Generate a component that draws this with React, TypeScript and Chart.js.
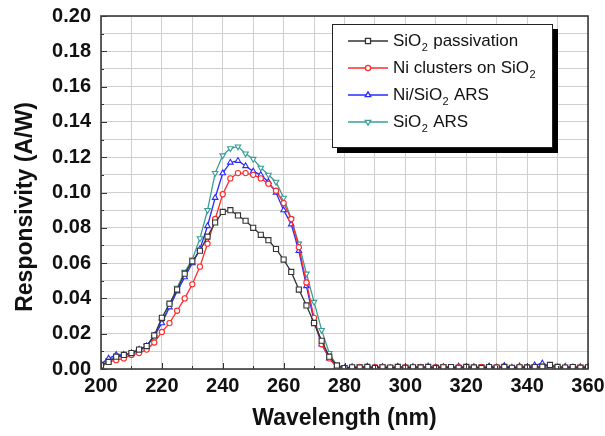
import React, { useEffect, useRef } from 'react';
import { Chart, registerables } from 'chart.js';
import { drawPoint } from 'chart.js/helpers';

Chart.register(...registerables);

// Wavelength sampling (nm)
const wavelengths = [
  200, 202.5, 205, 207.5, 210, 212.5, 215, 217.5, 220, 222.5, 225, 227.5, 230, 232.5, 235, 237.5,
  240, 242.5, 245, 247.5, 250, 252.5, 255, 257.5, 260, 262.5, 265, 267.5, 270, 272.5, 275, 277.5,
  280, 282.5, 285, 287.5, 290, 292.5, 295, 297.5, 300, 302.5, 305, 307.5, 310, 312.5, 315, 317.5,
  320, 322.5, 325, 327.5, 330, 332.5, 335, 337.5, 340, 342.5, 345, 347.5, 350, 352.5, 355, 357.5, 360,
];

// Responsivity (A/W) for each device
const sio2Passivation = [
  0.002, 0.004, 0.007, 0.008, 0.009, 0.011, 0.013, 0.019, 0.029, 0.037, 0.045, 0.054, 0.061, 0.067, 0.075, 0.083,
  0.089, 0.090, 0.087, 0.084, 0.080, 0.076, 0.073, 0.068, 0.062, 0.055, 0.045, 0.036, 0.026, 0.016, 0.007, 0.002,
  0.0005, 0.001, 0.0008, 0.0012, 0.0006, 0.001, 0.0008, 0.0012, 0.0007, 0.001, 0.0009, 0.0012, 0.0006, 0.001, 0.0011, 0.0007,
  0.0012, 0.0009, 0.0006, 0.0011, 0.0008, 0.0012, 0.0007, 0.001, 0.0009, 0.0011, 0.0013, 0.0023, 0.0012, 0.0008, 0.0011, 0.0007, 0.001,
];

const niClustersOnSio2 = [
  0.002, 0.004, 0.005, 0.006, 0.008, 0.009, 0.011, 0.015, 0.021, 0.026, 0.033, 0.040, 0.048, 0.058, 0.071, 0.085,
  0.099, 0.108, 0.111, 0.111, 0.110, 0.108, 0.105, 0.101, 0.094, 0.085, 0.069, 0.049, 0.029, 0.014, 0.006, 0.001,
  0.0005, 0.0008, 0.0012, 0.0006, 0.001, 0.0012, 0.0007, 0.001, 0.0011, 0.0006, 0.0012, 0.0008, 0.001, 0.0012, 0.0006, 0.001,
  0.0011, 0.0007, 0.0012, 0.0008, 0.001, 0.0011, 0.0006, 0.0012, 0.0009, 0.001, 0.0012, 0.0008, 0.0011, 0.0007, 0.0012, 0.0009, 0.001,
];

const niSio2Ars = [
  0.003, 0.006, 0.008, 0.008, 0.009, 0.011, 0.013, 0.019, 0.026, 0.035, 0.044, 0.052, 0.060, 0.068, 0.081, 0.097,
  0.111, 0.117, 0.118, 0.115, 0.112, 0.110, 0.106, 0.100, 0.090, 0.082, 0.067, 0.047, 0.027, 0.014, 0.006, 0.001,
  0.0005, 0.0012, 0.0006, 0.0014, 0.0008, 0.0012, 0.0005, 0.0014, 0.0008, 0.0012, 0.0006, 0.0015, 0.0008, 0.0012, 0.0006, 0.0015,
  0.0009, 0.0012, 0.0006, 0.0016, 0.0009, 0.0018, 0.0008, 0.0016, 0.001, 0.0022, 0.0032, 0.0015, 0.0009, 0.0014, 0.0008, 0.0012, 0.001,
];

const sio2Ars = [
  0.002, 0.005, 0.007, 0.007, 0.009, 0.010, 0.013, 0.018, 0.027, 0.036, 0.046, 0.055, 0.062, 0.074, 0.090, 0.111,
  0.121, 0.125, 0.126, 0.122, 0.119, 0.114, 0.110, 0.106, 0.097, 0.085, 0.071, 0.054, 0.038, 0.022, 0.009, 0.002,
  0.001, 0.0005, 0.0015, 0.001, 0.0005, 0.0015, 0.001, 0.0005, 0.0012, 0.0008, 0.0015, 0.0005, 0.001, 0.0015, 0.0005, 0.001,
  0.0012, 0.0006, 0.0014, 0.0008, 0.001, 0.0015, 0.0005, 0.0012, 0.0009, 0.0015, 0.0006, 0.001, 0.0014, 0.0005, 0.0011, 0.0013, 0.0008,
];

// Legend labels split as [before subscript, subscript, after subscript]
const legendLabels = [
  ['SiO', '2', ' passivation'],
  ['Ni clusters on SiO', '2', ''],
  ['Ni/SiO', '2', ' ARS'],
  ['SiO', '2', ' ARS'],
];

const yAxisTitle = 'Responsivity (A/W)';
const xAxisTitle = 'Wavelength (nm)';

const seriesColors = ['#333333', '#ff2a2a', '#2a2aff', '#3a9e94'];
const seriesPointStyles = ['rect', 'circle', 'triangle', 'triangle'];
const seriesRotations = [0, 0, 0, 180];
const seriesRadii = [3.6, 2.6, 3.2, 3.2];
const seriesValues = [sio2Passivation, niClustersOnSio2, niSio2Ars, sio2Ars];

const FONT = "'Liberation Sans', Arial, sans-serif";

// Plot frame plus inward tick marks on the bottom and left axes
const framePlugin = {
  id: 'frame',
  afterDatasetsDraw(chart: any) {
    const { ctx, chartArea: a, scales } = chart;
    ctx.save();
    ctx.strokeStyle = '#333';
    ctx.lineWidth = 1;
    const xs = scales.x;
    for (let v = 200; v <= 360; v += 10) {
      const px = Math.round(xs.getPixelForValue(v)) + 0.5;
      const len = v % 20 === 0 ? 6 : 3;
      ctx.beginPath();
      ctx.moveTo(px, a.bottom);
      ctx.lineTo(px, a.bottom - len);
      ctx.stroke();
    }
    const ys = scales.y;
    for (let i = 0; i <= 20; i++) {
      const py = Math.round(ys.getPixelForValue(i * 0.01)) + 0.5;
      const len = i % 2 === 0 ? 6 : 3;
      ctx.beginPath();
      ctx.moveTo(a.left, py);
      ctx.lineTo(a.left + len, py);
      ctx.stroke();
    }
    ctx.strokeStyle = '#3a3a3a';
    ctx.lineWidth = 1.6;
    ctx.strokeRect(a.left, a.top, a.right - a.left, a.bottom - a.top);

    // vertical axis title, set a little below the plot's mid-height
    ctx.translate(26, 207);
    ctx.rotate(-Math.PI / 2);
    ctx.fillStyle = '#111';
    ctx.font = `bold 23px ${FONT}`;
    ctx.textAlign = 'center';
    ctx.textBaseline = 'middle';
    ctx.fillText(yAxisTitle, 0, 0);
    ctx.restore();
  },
};

// Boxed legend with drop shadow and subscripted chemical formulas
const legendPlugin = {
  id: 'boxLegend',
  afterDraw(chart: any) {
    const { ctx } = chart;
    const bx = 332, by = 24, bw = 221, bh = 124;
    ctx.save();
    ctx.fillStyle = '#000';
    ctx.fillRect(bx + 5, by + 5, bw, bh);
    ctx.fillStyle = '#fff';
    ctx.fillRect(bx, by, bw, bh);
    ctx.strokeStyle = '#222';
    ctx.lineWidth = 1;
    ctx.strokeRect(bx + 0.5, by + 0.5, bw - 1, bh - 1);

    const rows = [41, 68, 95, 122];
    legendLabels.forEach((parts, i) => {
      const y = rows[i];
      ctx.strokeStyle = seriesColors[i];
      ctx.lineWidth = 1.3;
      ctx.beginPath();
      ctx.moveTo(348, y);
      ctx.lineTo(388, y);
      ctx.stroke();
      ctx.fillStyle = '#fff';
      drawPoint(ctx, {
        pointStyle: seriesPointStyles[i],
        rotation: seriesRotations[i],
        radius: seriesRadii[i],
        borderWidth: 1.2,
      } as any, 368, y);

      let x = 393;
      ctx.fillStyle = '#111';
      ctx.textBaseline = 'middle';
      ctx.textAlign = 'left';
      ctx.font = `17px ${FONT}`;
      ctx.fillText(parts[0], x, y);
      x += ctx.measureText(parts[0]).width;
      ctx.font = `11px ${FONT}`;
      ctx.fillText(parts[1], x + 0.5, y + 7);
      x += ctx.measureText(parts[1]).width + 1;
      ctx.font = `17px ${FONT}`;
      ctx.fillText(parts[2], x, y);
    });
    ctx.restore();
  },
};

export default function App() {
  const canvasRef = useRef<HTMLCanvasElement | null>(null);

  useEffect(() => {
    if (!canvasRef.current) return;
    const datasets = seriesValues.map((vals, i) => ({
      label: legendLabels[i].join(''),
      data: wavelengths.map((w, k) => ({ x: w, y: vals[k] })),
      borderColor: seriesColors[i],
      backgroundColor: '#ffffff',
      borderWidth: 1.3,
      pointStyle: seriesPointStyles[i],
      rotation: seriesRotations[i],
      pointRadius: seriesRadii[i],
      pointBorderWidth: 1.1,
      pointBorderColor: seriesColors[i],
      pointBackgroundColor: '#ffffff',
      tension: 0,
    }));

    const tickFont = { family: FONT, size: 20, weight: 'bold' as const };
    const titleFont = { family: FONT, size: 23, weight: 'bold' as const };

    const chart = new Chart(canvasRef.current, {
      type: 'line',
      data: { datasets },
      options: {
        animation: false,
        responsive: false,
        devicePixelRatio: 1,
        layout: { padding: { top: 16, right: 17, bottom: 0, left: 0 } },
        plugins: { legend: { display: false }, tooltip: { enabled: false } },
        scales: {
          x: {
            type: 'linear',
            min: 200,
            max: 360,
            ticks: {
              stepSize: 10,
              autoSkip: false,
              maxRotation: 0,
              padding: 5,
              color: '#111',
              font: tickFont,
              callback: (v: any) => (Number(v) % 20 === 0 ? String(v) : ''),
            },
            grid: { color: '#cfcfcf', lineWidth: 1, drawTicks: false },
            border: { display: false },
            title: {
              display: true,
              text: xAxisTitle,
              color: '#111',
              font: titleFont,
              padding: { top: 0, bottom: 4 },
            },
            afterFit: (s: any) => {
              s.height = 67;
              s.paddingLeft = 0;
              s.paddingRight = 0;
            },
          },
          y: {
            type: 'linear',
            min: 0,
            max: 0.2,
            ticks: {
              stepSize: 0.01,
              autoSkip: false,
              padding: 10,
              color: '#111',
              font: tickFont,
              callback: (v: any, i: number) => (i % 2 === 0 ? Number(v).toFixed(2) : ''),
            },
            grid: { color: '#cfcfcf', lineWidth: 1, drawTicks: false },
            border: { display: false },
            afterFit: (s: any) => {
              s.width = 101;
              s.paddingTop = 0;
              s.paddingBottom = 0;
            },
          },
        },
      },
      plugins: [framePlugin, legendPlugin],
    });
    return () => chart.destroy();
  }, []);

  return (
    <div style={{ position: 'fixed', left: 0, top: 0, width: 605, height: 436, background: '#fff' }}>
      <canvas ref={canvasRef} width={605} height={436} style={{ display: 'block' }} />
    </div>
  );
}
